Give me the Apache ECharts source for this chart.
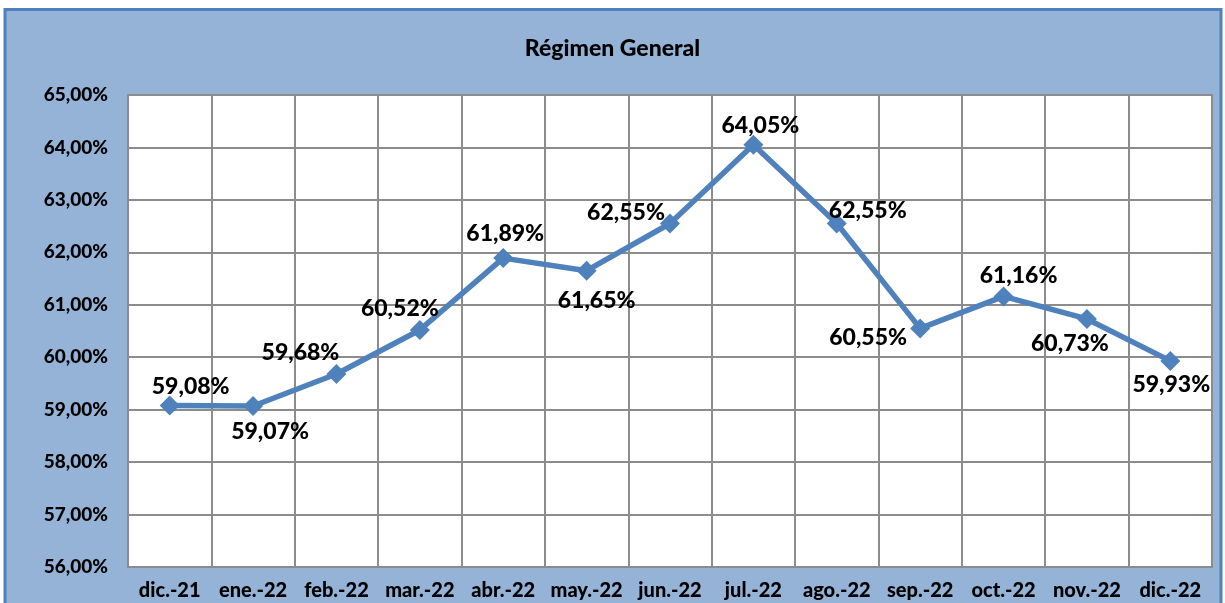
<!DOCTYPE html>
<html>
<head>
<meta charset="utf-8">
<script src="https://cdn.jsdelivr.net/npm/echarts@6/dist/echarts.min.js"></script>
<style>
  html, body { margin: 0; padding: 0; background: #ffffff; }
  #chart { width: 1225px; height: 603px; }
</style>
</head>
<body>
<div id="chart"></div>
<script>
// 类目（月份）
const months = ['dic.-21', 'ene.-22', 'feb.-22', 'mar.-22', 'abr.-22', 'may.-22', 'jun.-22',
  'jul.-22', 'ago.-22', 'sep.-22', 'oct.-22', 'nov.-22', 'dic.-22'];

// 数值（百分比）
const ratios = [59.08, 59.07, 59.68, 60.52, 61.89, 61.65, 62.55, 64.05, 62.55, 60.55, 61.16, 60.73, 59.93];

// 标签相对数据点的偏移
const labelOffsets = [[21, -19], [17, 26], [-36, -21], [-20, -21], [2, -25], [10, 30], [-44, -11],
  [7, -19], [31, -13], [-52, 9], [15, -21], [-17, 25], [1, 24]];

const fmt = v => v.toFixed(2).replace('.', ',') + '%';

const chart = echarts.init(document.getElementById('chart'));

chart.setOption({
  backgroundColor: '#ffffff',
  animation: false,
  graphic: [{
    type: 'rect',
    z: -10,
    silent: true,
    shape: { x: 5, y: 9.5, width: 1216, height: 620 },
    style: { fill: '#95B3D7', stroke: '#4F81BD', lineWidth: 3 }
  }],
  title: {
    text: 'Régimen General',
    left: 'center',
    top: 32,
    textStyle: { fontFamily: 'Lato', fontWeight: 900, fontSize: 23, color: '#000' }
  },
  grid: {
    left: 128, top: 95, right: 13, bottom: 36,
    show: true,
    backgroundColor: '#ffffff',
    borderColor: '#8c8c8c',
    borderWidth: 2
  },
  xAxis: {
    type: 'category',
    data: months,
    boundaryGap: true,
    axisLine: { lineStyle: { color: '#8c8c8c', width: 2 } },
    axisTick: { show: false },
    splitLine: { show: true, lineStyle: { color: '#8c8c8c', width: 2 } },
    axisLabel: {
      margin: 14,
      interval: 0,
      fontFamily: 'Lato', fontWeight: 900, fontSize: 20, color: '#000'
    }
  },
  yAxis: {
    type: 'value',
    min: 56, max: 65, interval: 1,
    axisLine: { show: true, lineStyle: { color: '#8c8c8c', width: 2 } },
    axisTick: { show: false },
    splitLine: { show: true, lineStyle: { color: '#8c8c8c', width: 2 } },
    axisLabel: {
      margin: 20,
      formatter: fmt,
      fontFamily: 'Lato', fontWeight: 900, fontSize: 19, color: '#000'
    }
  },
  series: [{
    type: 'line',
    data: ratios.map((v, i) => ({
      value: v,
      label: { offset: labelOffsets[i] }
    })),
    symbol: 'diamond',
    symbolSize: 20,
    lineStyle: { color: '#4F81BD', width: 5.5 },
    itemStyle: { color: '#4F81BD' },
    label: {
      show: true,
      position: 'inside',
      formatter: p => fmt(p.value),
      fontFamily: 'Lato', fontWeight: 900, fontSize: 23, color: '#000'
    }
  }]
});
</script>
</body>
</html>
